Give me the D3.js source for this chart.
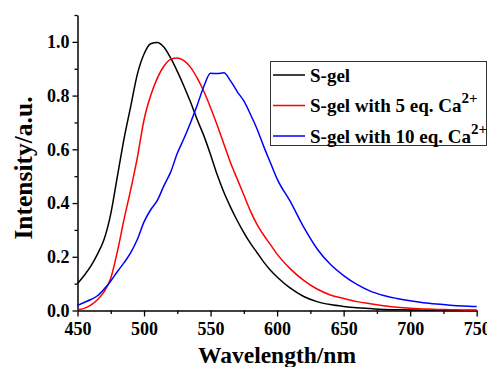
<!DOCTYPE html>
<html>
<head>
<meta charset="utf-8">
<script src="https://cdn.jsdelivr.net/npm/d3@7"></script>
<style>
  body { margin: 0; background: #fff; }
</style>
</head>
<body>
<div id="chart"></div>
<script>
// wavelengths (nm) shared by all three spectra
var wavelengths = [450,455,460,465,470,475,480,485,490,495,500,505,510,515,520,525,530,535,540,545,
  550,555,560,565,570,575,580,585,590,595,600,610,620,630,640,650,660,670,680,690,700,710,720,730,740,750];

var sGel = [0.10,0.13,0.165,0.21,0.265,0.36,0.50,0.64,0.76,0.88,0.955,0.993,0.998,0.98,0.94,0.89,0.835,0.775,0.71,0.65,
  0.58,0.505,0.44,0.385,0.335,0.29,0.25,0.215,0.18,0.15,0.125,0.083,0.052,0.033,0.022,0.015,0.010,0.007,0.004,0.003,0.002,0.001,0.001,0.0,0.0,0.0];

var sGel5Ca = [0.003,0.008,0.02,0.04,0.07,0.12,0.22,0.34,0.45,0.57,0.71,0.80,0.865,0.91,0.935,0.94,0.93,0.905,0.865,0.815,
  0.755,0.69,0.62,0.55,0.49,0.43,0.37,0.32,0.28,0.245,0.21,0.155,0.112,0.08,0.058,0.045,0.033,0.025,0.018,0.012,0.008,0.006,0.004,0.003,0.002,0.002];

var sGel10Ca = [0.019,0.03,0.041,0.055,0.08,0.11,0.145,0.178,0.215,0.265,0.33,0.375,0.41,0.465,0.515,0.585,0.64,0.70,0.765,0.835,
  0.883,0.882,0.885,0.855,0.815,0.78,0.73,0.675,0.61,0.55,0.49,0.405,0.31,0.23,0.172,0.13,0.097,0.072,0.056,0.045,0.036,0.029,0.024,0.02,0.017,0.015];

var seriesNames = ["S-gel", "S-gel with 5 eq. Ca", "S-gel with 10 eq. Ca"];
var seriesColors = ["#000000", "#ff0000", "#0000ff"];

var xTicks = [450, 500, 550, 600, 650, 700, 750];
var yTicks = [0.0, 0.2, 0.4, 0.6, 0.8, 1.0];

var FONT = "'Liberation Serif', 'Times New Roman', Times, serif";

var margin = { top: 15, right: 10, bottom: 56.5, left: 77.5 };
var width = 487, height = 367;
var innerW = 476.7 - margin.left;
var innerH = height - margin.top - margin.bottom;

var svg = d3.select("#chart").append("svg")
  .attr("width", width)
  .attr("height", height);

var g = svg.append("g")
  .attr("transform", "translate(" + margin.left + "," + margin.top + ")");

var xScale = d3.scaleLinear().domain([450, 750]).range([0, innerW]);
var yScale = d3.scaleLinear().domain([0, 1.1]).range([innerH, 0]);

// minor ticks
g.append("g")
  .attr("transform", "translate(0," + innerH + ")")
  .call(d3.axisBottom(xScale).tickValues(d3.range(475, 750, 50)).tickSize(3.5).tickFormat(""))
  .call(function (a) { a.select(".domain").remove(); });
g.append("g")
  .call(d3.axisLeft(yScale).tickValues([0.1, 0.3, 0.5, 0.7, 0.9, 1.1]).tickSize(3).tickFormat(""))
  .call(function (a) { a.select(".domain").remove(); });

var xAxis = g.append("g")
  .attr("class", "x axis")
  .attr("transform", "translate(0," + innerH + ")")
  .call(d3.axisBottom(xScale).tickValues(xTicks).tickSize(6).tickSizeOuter(0).tickPadding(5.5).tickFormat(d3.format("d")));

var yAxis = g.append("g")
  .attr("class", "y axis")
  .call(d3.axisLeft(yScale).tickValues(yTicks).tickSize(5).tickSizeOuter(0).tickPadding(3).tickFormat(d3.format(".1f")));

g.selectAll(".axis").attr("font-family", FONT).attr("font-size", 18);
g.selectAll(".axis text").attr("font-weight", "bold").attr("fill", "#000");
g.selectAll(".tick line").attr("stroke", "#000").attr("stroke-width", 1.3);
g.selectAll(".domain").attr("stroke", "#000").attr("stroke-width", 1.5);

var line = d3.line()
  .x(function (d, i) { return xScale(wavelengths[i]); })
  .y(function (d) { return yScale(d); })
  .curve(d3.curveMonotoneX);

[sGel, sGel5Ca, sGel10Ca].forEach(function (s, k) {
  g.append("path")
    .datum(s)
    .attr("fill", "none")
    .attr("stroke", seriesColors[k])
    .attr("stroke-width", 1.5)
    .attr("d", line);
});

// axis titles
svg.append("text")
  .attr("x", 277)
  .attr("y", 363)
  .attr("text-anchor", "middle")
  .attr("font-family", FONT)
  .attr("font-weight", "bold")
  .attr("font-size", 23.5)
  .text("Wavelength/nm");

svg.append("text")
  .attr("transform", "translate(32,168) rotate(-90)")
  .attr("text-anchor", "middle")
  .attr("font-family", FONT)
  .attr("font-weight", "bold")
  .attr("font-size", 25.5)
  .text("Intensity/a.u.");

// legend
var legend = svg.append("g");
legend.append("rect")
  .attr("x", 270.5).attr("y", 61.5)
  .attr("width", 216).attr("height", 84)
  .attr("fill", "#fff")
  .attr("stroke", "#333")
  .attr("stroke-width", 1);

seriesNames.forEach(function (name, k) {
  var y = 75 + k * 30.5;
  legend.append("line")
    .attr("x1", 273).attr("x2", 305)
    .attr("y1", y).attr("y2", y)
    .attr("stroke", seriesColors[k])
    .attr("stroke-width", 1.5);
  var t = legend.append("text")
    .attr("x", 310)
    .attr("y", y + 6.5)
    .attr("font-family", FONT)
    .attr("font-weight", "bold")
    .attr("font-size", 19)
    .text(name);
  if (k > 0) {
    t.append("tspan")
      .attr("dy", -9)
      .attr("font-size", 15)
      .text("2+");
  }
});
</script>
</body>
</html>
